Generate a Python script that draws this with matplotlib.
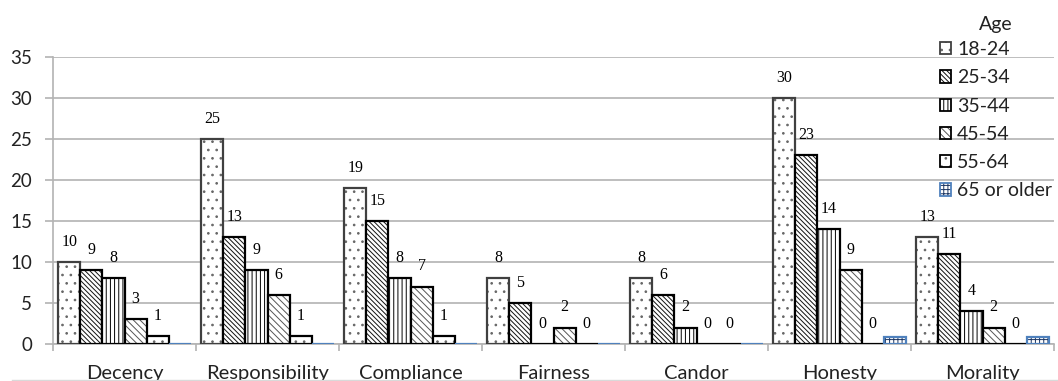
import matplotlib
matplotlib.use("Agg")
import matplotlib.pyplot as plt
import numpy as np
from matplotlib.lines import Line2D

categories = ["Decency", "Responsibility", "Compliance", "Fairness", "Candor", "Honesty", "Morality"]
age_groups = ["18-24", "25-34", "35-44", "45-54", "55-64", "65 or older"]
age_18_24 = [10, 25, 19, 8, 8, 30, 13]
age_25_34 = [9, 13, 15, 5, 6, 23, 11]
age_35_44 = [8, 9, 8, 0, 2, 14, 4]
age_45_54 = [3, 6, 7, 2, 0, 9, 2]
age_55_64 = [1, 1, 1, 0, 0, 0, 0]
age_65_up = [0, 0, 0, 0, 0, 0.8, 0.8]
y_ticks = [0, 5, 10, 15, 20, 25, 30, 35]

series = [age_18_24, age_25_34, age_35_44, age_45_54, age_55_64, age_65_up]
hatches = ["..", "\\" * 7, "||||", "\\" * 5, "..", "++++"]
edges = ["#404040", "black", "black", "black", "black", "#4f81bd"]
hatch_cols = ["#666666", "#111111", "black", "#555555", "#666666", "#1f3864"]
show_labels = [True, True, True, True, True, False]

plt.rcParams["hatch.linewidth"] = 0.7
grid_col = "#b3b3b3"
sans = "Lato"

fig = plt.figure(figsize=(10.58, 3.81), dpi=100)
ax = fig.add_axes([53 / 1058, 1 - 344 / 381, 1001 / 1058, 287 / 381])

x = np.arange(len(categories))
w = 0.154
n = len(series)
for i, vals in enumerate(series):
    pos = x - (n - 1) / 2 * w + i * w
    bars = ax.bar(pos, vals, width=w, facecolor="white", edgecolor=edges[i],
                  linewidth=1.6, hatch=hatches[i], label=age_groups[i], zorder=3)
    for b in bars:
        b._hatch_color = matplotlib.colors.to_rgba(hatch_cols[i])
    if show_labels[i]:
        for px, v in zip(pos, vals):
            ax.annotate(f"{v:g}", (px, v), xytext=(0, 14.5), textcoords="offset points",
                        ha="center", va="center", fontsize=11.5,
                        family="Liberation Serif", color="black", zorder=4)

ax.set_xlim(-0.5, len(categories) - 0.5)
ax.set_ylim(0, 35)
ax.set_yticks(y_ticks)
ax.yaxis.grid(True, color=grid_col, linewidth=1.2, zorder=0)
ax.tick_params(axis="y", length=6, color=grid_col, width=1.2, pad=9,
               labelsize=13.5, labelcolor="#222222")
ax.set_yticklabels([str(t) for t in y_ticks], family=sans)

ax.set_xticks(x)
ax.set_xticklabels(categories, family=sans, fontsize=14.5, color="#222222")
ax.tick_params(axis="x", which="major", length=0, pad=15)
ax.set_xticks(np.arange(len(categories) + 1) - 0.5, minor=True)
ax.tick_params(axis="x", which="minor", length=5, color=grid_col, width=1.2)

for s in ["top", "right"]:
    ax.spines[s].set_visible(False)
for s in ["left", "bottom"]:
    ax.spines[s].set_color(grid_col)
    ax.spines[s].set_linewidth(1.2)

leg = fig.legend(loc="upper left", bbox_to_anchor=(930 / 1058, 1 - 6 / 381),
                 frameon=False, title="Age", handlelength=0.6, handleheight=0.6,
                 handletextpad=0.3, labelspacing=0.58, borderpad=0.0,
                 prop={"family": sans, "size": 14})
leg.get_title().set_family(sans)
leg.get_title().set_fontsize(14)
leg.get_title().set_color("#222222")
leg._legend_box.sep = 6
for t in leg.get_texts():
    t.set_color("#222222")
for h in leg.legend_handles:
    h.set_linewidth(1.3)

fig.add_artist(Line2D([12 / 1058, 1], [1.5 / 381, 1.5 / 381], color="#d9d9d9", linewidth=1))

fig.savefig("out.png", dpi=100)
